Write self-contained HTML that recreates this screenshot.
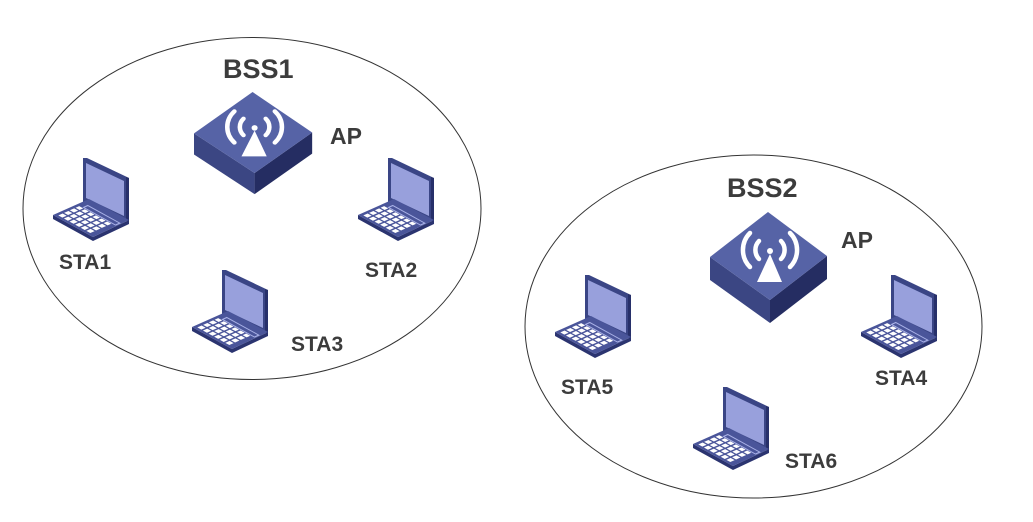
<!DOCTYPE html>
<html><head><meta charset="utf-8"><style>
html,body{margin:0;padding:0;background:#fff;}
svg{display:block;}
text{font-family:"Liberation Sans",Arial,sans-serif;font-weight:bold;fill:#3c3c3c;}
</style></head><body>
<svg width="1033" height="522" viewBox="0 0 1033 522" xmlns="http://www.w3.org/2000/svg">
<defs>
<g id="lap">
  <polygon points="30,0 34,0 76,20 76,64 30,44" fill="#3a4585"/>
  <polygon points="73,19 76,20 76,64 73,62" fill="#27306a"/>
  <polygon points="33,5 71,23 71,58 33,40" fill="#98a0dc"/>
  <polygon points="0,57 40,79 76,62 76,66 40,83 0,61" fill="#2b3470"/>
  <polygon points="0,57 36,41 76,62 40,79" fill="#4a559a"/>
  <g transform="matrix(40,22,36,-16,0,57)">
    <polygon points="0.15,0.68 0.95,0.68 0.95,0.8 0.15,0.8" fill="none" stroke="#aab2e8" stroke-width="0.03"/>
    <g fill="#ffffff">
      <rect x="0.07" y="0.07" width="0.1" height="0.12"/><rect x="0.21" y="0.07" width="0.1" height="0.12"/><rect x="0.35" y="0.07" width="0.1" height="0.12"/><rect x="0.49" y="0.07" width="0.1" height="0.12"/><rect x="0.63" y="0.07" width="0.1" height="0.12"/><rect x="0.77" y="0.07" width="0.1" height="0.12"/>
      <rect x="0.07" y="0.23" width="0.1" height="0.12"/><rect x="0.21" y="0.23" width="0.1" height="0.12"/><rect x="0.35" y="0.23" width="0.1" height="0.12"/><rect x="0.49" y="0.23" width="0.1" height="0.12"/><rect x="0.63" y="0.23" width="0.1" height="0.12"/><rect x="0.77" y="0.23" width="0.1" height="0.12"/>
      <rect x="0.07" y="0.39" width="0.1" height="0.12"/><rect x="0.21" y="0.39" width="0.1" height="0.12"/><rect x="0.35" y="0.39" width="0.1" height="0.12"/><rect x="0.49" y="0.39" width="0.1" height="0.12"/><rect x="0.63" y="0.39" width="0.1" height="0.12"/><rect x="0.77" y="0.39" width="0.1" height="0.12"/>
      <rect x="0.07" y="0.55" width="0.1" height="0.1"/><rect x="0.21" y="0.55" width="0.1" height="0.1"/><rect x="0.35" y="0.55" width="0.1" height="0.1"/><rect x="0.49" y="0.55" width="0.1" height="0.1"/><rect x="0.63" y="0.55" width="0.1" height="0.1"/><rect x="0.77" y="0.55" width="0.1" height="0.1"/>
    </g>
  </g>
</g>
<g id="ap">
  <polygon points="0,45 60,88 60,111 0,68" fill="#3b4683"/>
  <polygon points="60,88 117,44 117,67 60,111" fill="#252d62"/>
  <polygon points="58,0 117,44 60,88 0,45" fill="#5663a6"/>
  <g fill="none" stroke="#fff" stroke-width="4.5" stroke-linecap="round">
    <path d="M49,29 A13,13 0 0 0 49,47"/>
    <path d="M71,29 A13,13 0 0 1 71,47"/>
    <path d="M40,21 A24,24 0 0 0 40,55"/>
    <path d="M80,21 A24,24 0 0 1 80,55"/>
  </g>
  <circle cx="60" cy="39" r="3" fill="#fff"/>
  <polygon points="60,42 72,70 47,70" fill="#fff"/>
</g>
</defs>

<ellipse cx="252" cy="208.5" rx="229" ry="171" fill="none" stroke="#333" stroke-width="1"/>
<ellipse cx="753.5" cy="326.5" rx="228.5" ry="171.5" fill="none" stroke="#333" stroke-width="1"/>

<use href="#ap" transform="translate(194,92) scale(1.01,0.92)"/>
<use href="#ap" transform="translate(710,212)"/>

<use href="#lap" transform="translate(53,158)"/>
<use href="#lap" transform="translate(358,158)"/>
<use href="#lap" transform="translate(192,270)"/>
<use href="#lap" transform="translate(555,275)"/>
<use href="#lap" transform="translate(861,275)"/>
<use href="#lap" transform="translate(693,387)"/>

<text x="223" y="78" font-size="27">BSS1</text>
<text x="330" y="144" font-size="23">AP</text>
<text x="59" y="269" font-size="21">STA1</text>
<text x="365" y="277" font-size="21">STA2</text>
<text x="291" y="351" font-size="21">STA3</text>
<text x="727" y="197" font-size="27">BSS2</text>
<text x="841" y="248" font-size="23">AP</text>
<text x="561" y="394" font-size="21">STA5</text>
<text x="875" y="385" font-size="21">STA4</text>
<text x="785" y="468" font-size="21">STA6</text>
</svg>
</body></html>
